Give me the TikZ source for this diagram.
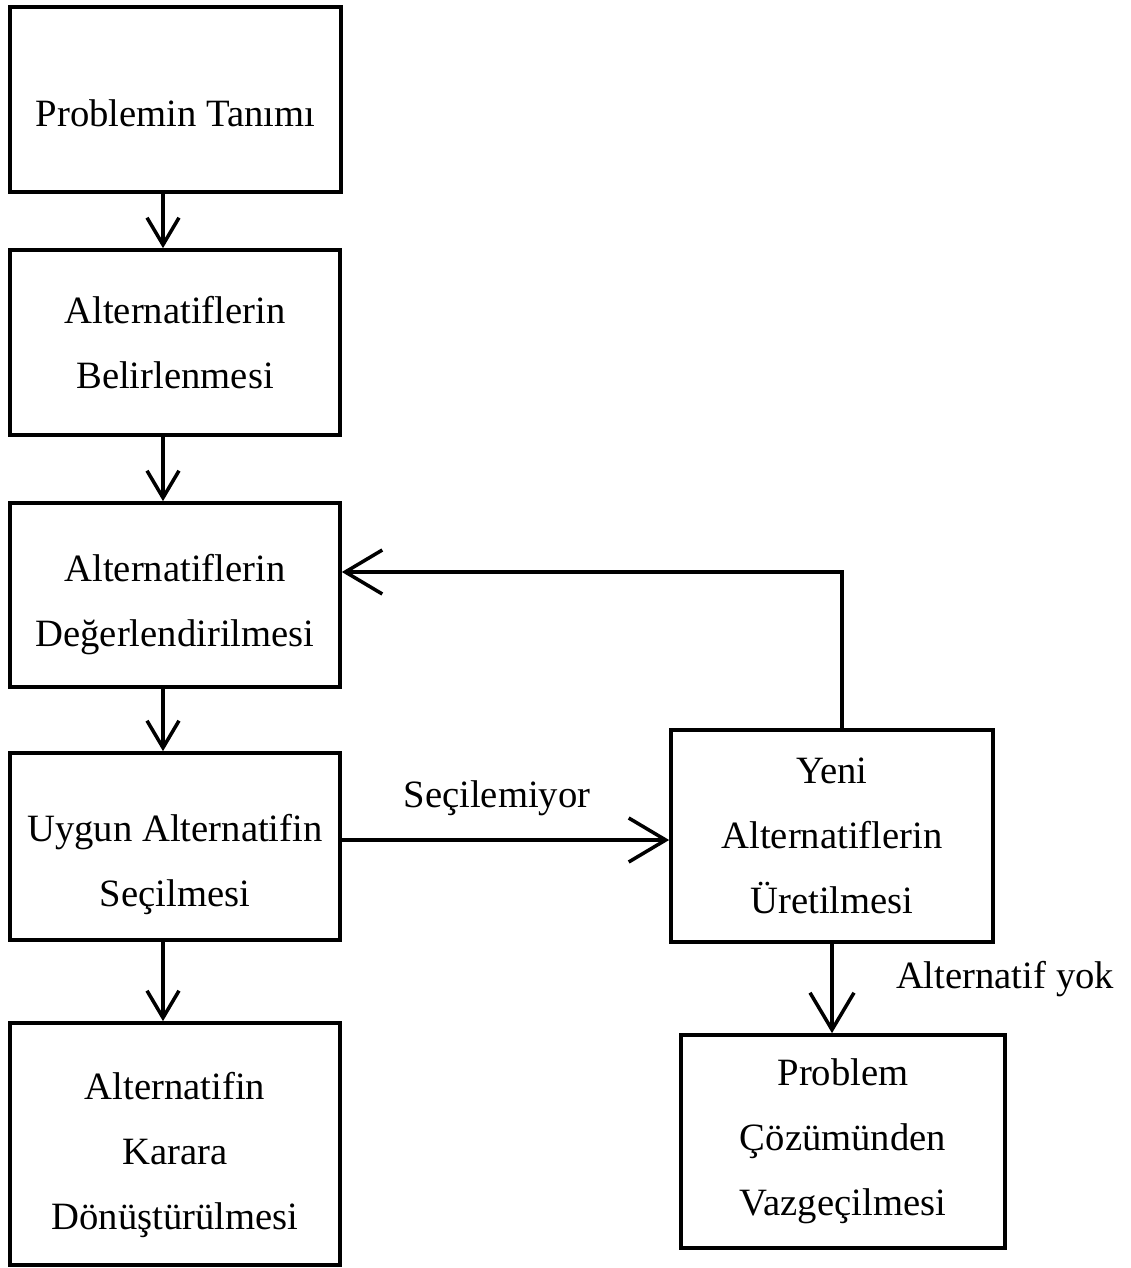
\documentclass[tikz,border=0pt]{standalone}
\usepackage{fontspec}
\setmainfont{Liberation Serif}
\usetikzlibrary{arrows.meta, positioning}
\newcommand{\aralik}[1]{\rule{0pt}{#1}}
\tikzset{
  kutu/.style={rectangle, draw, line width=2.1pt, align=center, inner sep=0pt,
    font=\fontsize{22}{37}\selectfont},
  ok/.style={-{Straight Barb[length=5.4mm, width=6.4mm]}, line width=2pt},
  okb/.style={-{Straight Barb[length=7.4mm, width=8.8mm]}, line width=2pt},
  etiket/.style={font=\fontsize{22}{37}\selectfont, inner sep=0pt, anchor=base}
}

\begin{document}
\begin{tikzpicture}[x=0.2mm, y=-0.2mm]
  \useasboundingbox (0,0) rectangle (1130,1268);
  % sol sutun
  \node[kutu, minimum width=66.2mm, minimum height=37mm, text height=31pt, text depth=0pt] (tanim)
    at (175.5,99.5) {Problemin Tanımı};
  \node[kutu, minimum width=66mm, minimum height=37mm] (belir)
    at (175,342.5) {Alternatiflerin\\Belirlenmesi};
  \node[kutu, minimum width=66mm, minimum height=36.8mm] (deger)
    at (175,595) {\aralik{26.5pt}Alternatiflerin\\Değerlendirilmesi};
  \node[kutu, minimum width=66mm, minimum height=37.4mm] (uygun)
    at (175,846.5) {\aralik{35.5pt}Uygun Alternatifin\\Seçilmesi};
  \node[kutu, minimum width=66mm, minimum height=48.4mm] (karar)
    at (175,1144) {\aralik{27.5pt}Alternatifin\\Karara\\Dönüştürülmesi};
  % sag sutun
  \node[kutu, minimum width=64.4mm, minimum height=42.4mm] (yeni)
    at (832,836) {Yeni\\Alternatiflerin\\Üretilmesi};
  \node[kutu, minimum width=64.8mm, minimum height=42.6mm] (vazgec)
    at (843,1141.5) {Problem\\Çözümünden\\Vazgeçilmesi};
  % etiketler
  \node[etiket] (secil) at (497,807) {Seçilemiyor};
  \node[etiket] (yok) at (1005,988) {Alternatif yok};
  % oklar
  \draw[ok] ([xshift=-2.5mm]tanim.south) -- ([xshift=-2.4mm]belir.north);
  \draw[ok] ([xshift=-2.4mm]belir.south) -- ([xshift=-2.4mm]deger.north);
  \draw[ok] ([xshift=-2.4mm]deger.south) -- ([xshift=-2.4mm]uygun.north);
  \draw[ok] ([xshift=-2.4mm]uygun.south) -- ([xshift=-2.4mm]karar.north);
  \draw[okb] ([yshift=1.3mm]uygun.east) -- ([yshift=1.3mm]uygun.east -| yeni.west);
  \coordinate (don) at (842,572);
  \draw[okb] (yeni.north -| don) -- (don) -- (don -| deger.east);
  \draw[okb] (yeni.south) -- (yeni.south |- vazgec.north);
\end{tikzpicture}
\end{document}
